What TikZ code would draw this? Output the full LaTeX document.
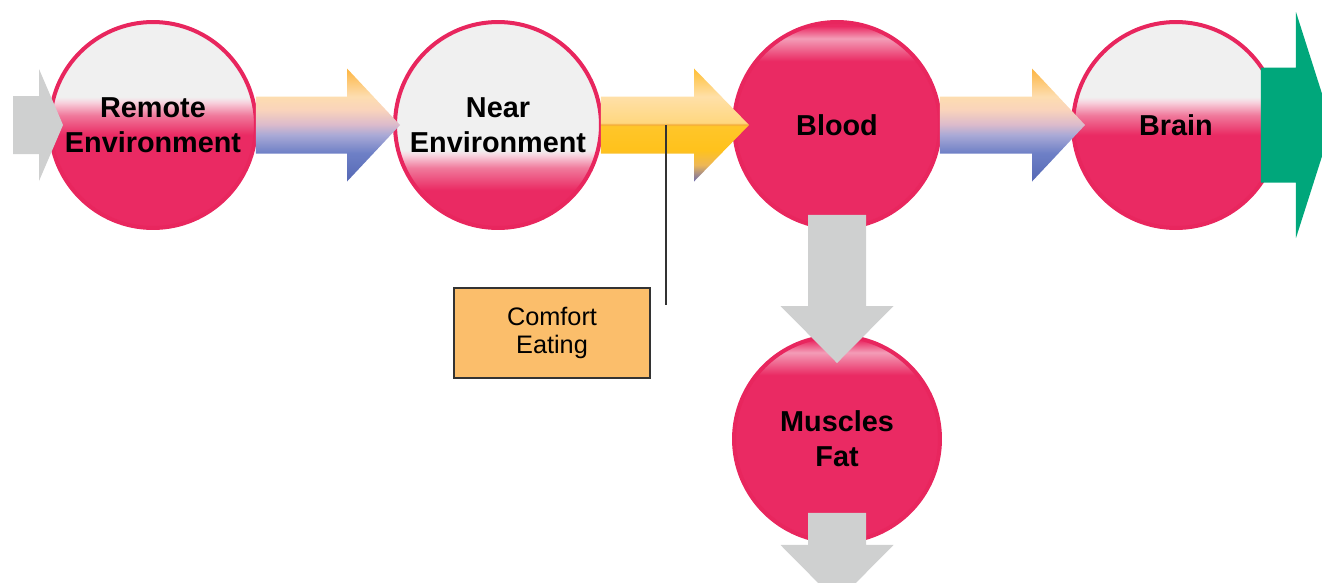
\documentclass[tikz,border=0pt]{standalone}
\usepackage{fontspec}
\setmainfont{Liberation Sans}
\usetikzlibrary{calc}

\definecolor{pinkfill}{HTML}{EA2A63}
\definecolor{pinkedge}{HTML}{E8265E}
\definecolor{pinkmid}{HTML}{F07A9C}
\definecolor{pinklight}{HTML}{F8D4DF}
\definecolor{pinkgloss}{HTML}{F39DB7}
\definecolor{topgray}{HTML}{F0F0F0}
\definecolor{arrowgray}{HTML}{CFD0D0}
\definecolor{arrowgreen}{HTML}{00A77B}
\definecolor{notefill}{HTML}{FBBE6B}
\definecolor{notegray}{HTML}{333333}
\definecolor{ab1}{HTML}{5568B5}
\definecolor{ab2}{HTML}{6E80C6}
\definecolor{ab3}{HTML}{A9A9D6}
\definecolor{ab4}{HTML}{DDBBCB}
\definecolor{ab5}{HTML}{F9D3BC}
\definecolor{ab6}{HTML}{FDDDB0}
\definecolor{ab7}{HTML}{FDB540}
\definecolor{ay1}{HTML}{6A6AB0}
\definecolor{ay2}{HTML}{EDB757}
\definecolor{ay3}{HTML}{FFC21C}
\definecolor{ay4}{HTML}{FFC62A}
\definecolor{ay5}{HTML}{F2A93A}
\definecolor{ay6}{HTML}{FFD77F}
\definecolor{ay7}{HTML}{FFE0A8}
\definecolor{ay8}{HTML}{FFBF35}

\pgfdeclareverticalshading{upperhalf}{100bp}{color(0bp)=(pinkfill); color(47.6bp)=(pinkfill);
  color(52.4bp)=(pinkmid); color(55.6bp)=(pinklight); color(56.8bp)=(topgray); color(100bp)=(topgray)}
\pgfdeclareverticalshading{lowerhalf}{100bp}{color(0bp)=(pinkfill); color(34.2bp)=(pinkfill);
  color(39.6bp)=(pinkmid); color(42.7bp)=(pinklight); color(43.9bp)=(topgray); color(100bp)=(topgray)}
\pgfdeclareverticalshading{glossy}{100bp}{color(0bp)=(pinkfill); color(65.5bp)=(pinkfill);
  color(71bp)=(pinkgloss); color(74bp)=(pinkfill); color(100bp)=(pinkfill)}
\pgfdeclareverticalshading{bluearrow}{100bp}{color(0bp)=(ab1); color(25bp)=(ab1); color(37.6bp)=(ab2);
  color(45.6bp)=(ab3); color(50.4bp)=(ab4); color(56.6bp)=(ab5); color(62.6bp)=(ab6); color(75bp)=(ab7); color(100bp)=(ab7)}
\pgfdeclareverticalshading{yellowarrow}{100bp}{color(0bp)=(ay1); color(25bp)=(ay1); color(32.3bp)=(ay2);
  color(39bp)=(ay3); color(49.6bp)=(ay4); color(50.2bp)=(ay5); color(50.9bp)=(ay6); color(62.6bp)=(ay7); color(75bp)=(ay8); color(100bp)=(ay8)}

\begin{document}
\begin{tikzpicture}[x=0.02cm,y=-0.02cm,
  stage/.style={circle,draw=pinkedge,line width=0.08cm,minimum size=4.12cm,inner sep=0pt,outer sep=0pt,
    align=center,font=\bfseries\fontsize{16.4}{19.9}\selectfont},
  note/.style={draw=notegray,line width=0.03cm,fill=notefill,minimum width=3.92cm,minimum height=1.8cm,
    align=center,font=\fontsize{14.4}{15.9}\selectfont},
  callout/.style={draw=notegray,line width=0.04cm}]
  \useasboundingbox (0,0) rectangle (1322,582);
  \clip (0,0) rectangle (1322,582);
  % stages
  \node[stage,shading=upperhalf] (remote) at (153,125) {Remote\\Environment};
  \node[stage,shading=lowerhalf] (near) at (498,125) {Near\\Environment};
  \node[stage,shading=glossy] (blood) at (837,125) {Blood};
  \node[stage,shading=upperhalf] (brain) at (1176,125) {Brain};
  \node[stage,shading=glossy] (muscles) at (837,439) {Muscles\\Fat};
  % entry arrow
  \coordinate (entry) at (13,125);
  \fill[arrowgray] ($(entry)+(0,-29)$) -- ($(remote.west)+(-11,-29)$) -- ($(remote.west)+(-11,-56)$)
    -- ($(remote.west)+(13,0)$) -- ($(remote.west)+(-11,56)$) -- ($(remote.west)+(-11,29)$) -- ($(entry)+(0,29)$) -- cycle;
  % arrows along the top
  \shade[shading=bluearrow] ($(remote.east)+(0,-28.5)$) -- ($(near.west)+(-48,-28.5)$) -- ($(near.west)+(-48,-56.5)$)
    -- ($(near.west)+(5,0)$) -- ($(near.west)+(-48,56.5)$) -- ($(near.west)+(-48,28.5)$) -- ($(remote.east)+(0,28.5)$) -- cycle;
  \shade[shading=yellowarrow] ($(near.east)+(0,-28.5)$) -- ($(blood.west)+(-40,-28.5)$) -- ($(blood.west)+(-40,-56.5)$)
    -- ($(blood.west)+(15,0)$) -- ($(blood.west)+(-40,56.5)$) -- ($(blood.west)+(-40,28.5)$) -- ($(near.east)+(0,28.5)$) -- cycle;
  \shade[shading=bluearrow] ($(blood.east)+(0,-28.5)$) -- ($(brain.west)+(-41,-28.5)$) -- ($(brain.west)+(-41,-56.5)$)
    -- ($(brain.west)+(12,0)$) -- ($(brain.west)+(-41,56.5)$) -- ($(brain.west)+(-41,28.5)$) -- ($(blood.east)+(0,28.5)$) -- cycle;
  % exit arrow
  \fill[arrowgreen] ($(brain.east)+(-18,-57.5)$) -- ($(brain.east)+(17,-57.5)$) -- ($(brain.east)+(17,-113)$)
    -- ($(brain.east)+(53,0)$) -- ($(brain.east)+(17,113)$) -- ($(brain.east)+(17,57.5)$) -- ($(brain.east)+(-18,57.5)$) -- cycle;
  % arrows downwards
  \fill[arrowgray] ($(blood.south)+(-29,-13)$) -- ($(muscles.north)+(-29,-30)$) -- ($(muscles.north)+(-56.5,-30)$)
    -- ($(muscles.north)+(0,27)$) -- ($(muscles.north)+(56.5,-30)$) -- ($(muscles.north)+(29,-30)$) -- ($(blood.south)+(29,-13)$) -- cycle;
  \coordinate (exit) at (837,602);
  \fill[arrowgray] ($(muscles.south)+(-29,-29)$) -- ($(muscles.south)+(-29,3)$) -- ($(muscles.south)+(-56.5,3)$)
    -- (exit) -- ($(muscles.south)+(56.5,3)$) -- ($(muscles.south)+(29,3)$) -- ($(muscles.south)+(29,-29)$) -- cycle;
  % comfort eating note
  \node[note] (comfort) at (552,333) {Comfort\\Eating};
  \coordinate (tap) at ($(near.east)+(65,0)$);
  \coordinate (tapend) at ($(tap)+(0,180)$);
  \draw[callout] (tap) -- (tapend);
\end{tikzpicture}
\end{document}
